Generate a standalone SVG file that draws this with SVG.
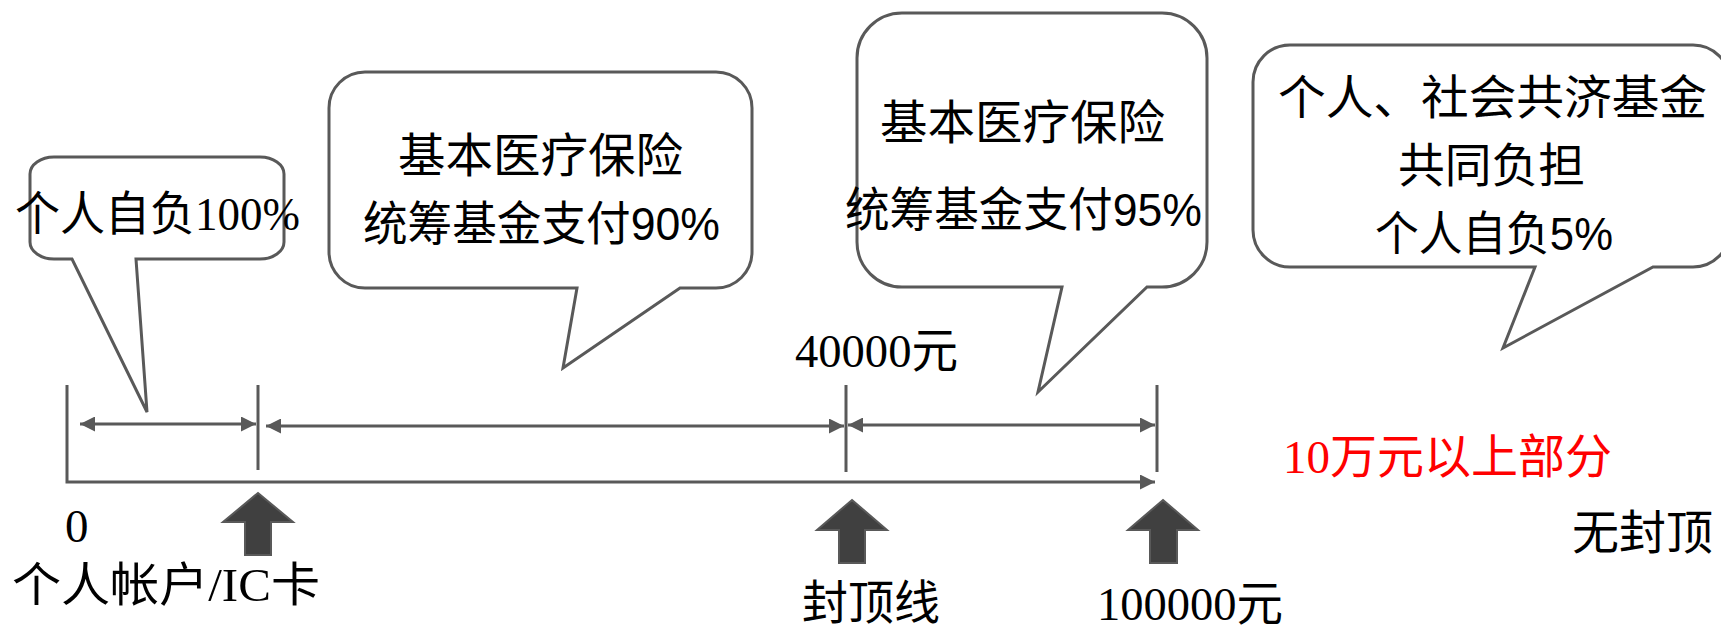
<svg xmlns="http://www.w3.org/2000/svg" width="1721" height="630" viewBox="0 0 1721 630">
<style>
.bubble{fill:#fff;stroke:#595959;stroke-width:3;stroke-linejoin:miter}
.ln{fill:none;stroke:#595959;stroke-width:3}
.blk{fill:#404040;stroke:#595959;stroke-width:2}
.t{font-size:47px;fill:#000}
.serif{font-family:"Liberation Serif","Noto Sans CJK SC",serif}
.sans{font-family:"Liberation Sans","Noto Sans CJK SC",sans-serif}
.red{fill:#FF0000}
</style>
<defs>
<marker id="ah" viewBox="0 0 10 10" refX="10" refY="5" markerWidth="5" markerHeight="5" orient="auto-start-reverse" markerUnits="strokeWidth">
<path d="M0,0 L10,5 L0,10 Z" fill="#595959"/>
</marker>
</defs>
<rect width="1721" height="630" fill="#fff"/>

<g id="connectors">
<path class="ln" d="M67,385 V482 H1155" marker-end="url(#ah)"/>
<line class="ln" x1="258" y1="385" x2="258" y2="470"/>
<line class="ln" x1="846" y1="385" x2="846" y2="472"/>
<line class="ln" x1="1157" y1="385" x2="1157" y2="472"/>
<line class="ln" x1="80" y1="424" x2="256" y2="424" marker-start="url(#ah)" marker-end="url(#ah)"/>
<line class="ln" x1="266" y1="426" x2="844" y2="426" marker-start="url(#ah)" marker-end="url(#ah)"/>
<line class="ln" x1="848" y1="425" x2="1155" y2="425" marker-start="url(#ah)" marker-end="url(#ah)"/>
</g>

<g id="bubble1">
<path class="bubble" d="M54,157 H260 A24 17 0 0 1 284,174 V242 A24 17 0 0 1 260,259 H136 L147,412 L72,259 H54 A24 17 0 0 1 30,242 V174 A24 17 0 0 1 54,157 Z"/>
<text class="t serif" x="15" y="230" textLength="285" lengthAdjust="spacingAndGlyphs">个人自负100%</text>
</g>

<g id="bubble2">
<path class="bubble" d="M365,72 H716 A36 36 0 0 1 752,108 V252 A36 36 0 0 1 716,288 H680 L563,368 L577,288 H365 A36 36 0 0 1 329,252 V108 A36 36 0 0 1 365,72 Z"/>
<text class="t sans" x="398" y="172" textLength="285" lengthAdjust="spacingAndGlyphs">基本医疗保险</text>
<text class="t sans" x="363" y="240" textLength="357" lengthAdjust="spacingAndGlyphs">统筹基金支付90%</text>
</g>

<g id="bubble3">
<path class="bubble" d="M902,13 H1162 A45 45 0 0 1 1207,58 V242 A45 45 0 0 1 1162,287 H1147 L1038,392 L1062,287 H902 A45 45 0 0 1 857,242 V58 A45 45 0 0 1 902,13 Z"/>
<text class="t sans" x="880" y="139" textLength="285" lengthAdjust="spacingAndGlyphs">基本医疗保险</text>
<text class="t sans" x="845" y="226" textLength="357" lengthAdjust="spacingAndGlyphs">统筹基金支付95%</text>
</g>

<g id="bubble4">
<path class="bubble" d="M1290,45 H1693 A37 37 0 0 1 1730,82 V230 A37 37 0 0 1 1693,267 H1653 L1503,348 L1535,267 H1290 A37 37 0 0 1 1253,230 V82 A37 37 0 0 1 1290,45 Z"/>
<text class="t sans" x="1278" y="114" textLength="429" lengthAdjust="spacingAndGlyphs">个人、社会共济基金</text>
<text class="t sans" x="1398" y="182" textLength="187" lengthAdjust="spacingAndGlyphs">共同负担</text>
<text class="t sans" x="1375" y="250" textLength="238" lengthAdjust="spacingAndGlyphs">个人自负5%</text>
</g>

<g id="arrow-ic">
<path class="blk" d="M258,493 L293,522 L271,522 L271,555 L245,555 L245,522 L223,522 Z"/>
</g>
<g id="arrow-cap">
<path class="blk" d="M852,500 L887,530 L865,530 L865,563 L839,563 L839,530 L817,530 Z"/>
</g>
<g id="arrow-100k">
<path class="blk" d="M1163,500 L1198,530 L1177,530 L1177,563 L1150,563 L1150,530 L1128,530 Z"/>
</g>

<g id="label-0"><text class="t serif" x="65" y="542">0</text></g>
<g id="label-ic"><text class="t serif" x="12" y="601" textLength="308" lengthAdjust="spacingAndGlyphs">个人帐户/IC卡</text></g>
<g id="label-40000"><text class="t serif" x="795" y="367" textLength="163" lengthAdjust="spacingAndGlyphs">40000元</text></g>
<g id="label-cap"><text class="t serif" x="802" y="619" textLength="138" lengthAdjust="spacingAndGlyphs">封顶线</text></g>
<g id="label-100000"><text class="t serif" x="1097" y="620" textLength="186" lengthAdjust="spacingAndGlyphs">100000元</text></g>
<g id="label-above"><text class="t serif red" x="1283" y="473" textLength="329" lengthAdjust="spacingAndGlyphs">10万元以上部分</text></g>
<g id="label-nocap"><text class="t serif" x="1572" y="549" textLength="141" lengthAdjust="spacingAndGlyphs">无封顶</text></g>
</svg>
